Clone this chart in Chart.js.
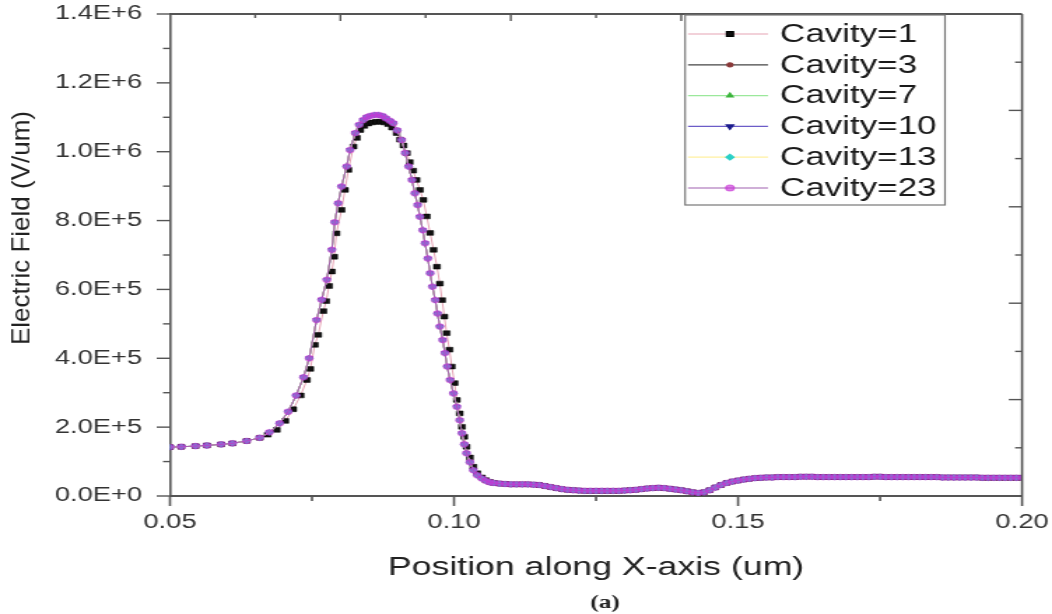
<!DOCTYPE html>
<html>
<head>
<meta charset="utf-8">
<title>Electric field along X</title>
<script src="https://cdn.jsdelivr.net/npm/chart.js@4/dist/chart.umd.min.js"></script>
<style>
	html, body { margin: 0; padding: 0; background: #fff; overflow: hidden; }
	/* the source figure is stretched sideways, so the whole chart is too */
	#wrap { width: 752px; height: 614px; transform: scaleX(1.39894); transform-origin: 0 0; }
</style>
</head>
<body>
<div id="wrap"><canvas id="fieldChart" width="752" height="614"></canvas></div>
<script>
const seriesLabels = ['Cavity=1', 'Cavity=3', 'Cavity=7', 'Cavity=10', 'Cavity=13', 'Cavity=23'];

// field values are in 1000 V/um
// Cavity=1 (black squares), rise and peak
const peakX1 = [0.0500, 0.0520, 0.0545, 0.0565, 0.0590, 0.0610, 0.0635, 0.0658, 0.0672, 0.0688,
	0.0703, 0.0717, 0.0730, 0.0741, 0.0747, 0.0755, 0.0761, 0.0770, 0.0775, 0.0780,
	0.0785, 0.0789, 0.0793, 0.0802, 0.0808, 0.0814, 0.0823, 0.0829, 0.0835, 0.0842,
	0.0849, 0.0856, 0.0863, 0.0870, 0.0877, 0.0884, 0.0891, 0.0899, 0.0905, 0.0911,
	0.0917, 0.0922, 0.0928, 0.0934, 0.0940, 0.0946, 0.0952, 0.0958, 0.0964, 0.0970,
	0.0975, 0.0979, 0.0983, 0.0987, 0.0992, 0.0996, 0.1001, 0.1005, 0.1010, 0.1014,
	0.1018, 0.1022, 0.1028, 0.1034, 0.1041, 0.1049, 0.1056, 0.1063];
const peakY1 = [142, 143, 145, 147, 150, 153, 160, 169, 178, 192,
	218, 252, 292, 337, 369, 439, 468, 537, 566, 610,
	652, 695, 763, 831, 889, 947, 1015, 1040, 1063, 1075,
	1082, 1085, 1087, 1087, 1085, 1080, 1070, 1054, 1035, 1018,
	996, 970, 945, 918, 889, 860, 812, 764, 715, 666,
	617, 569, 521, 473, 425, 376, 328, 279, 240, 201,
	172, 143, 112, 85, 66, 54, 46, 41];

// Cavity=3..23 lie on top of each other
const peakX = [0.0500, 0.0520, 0.0545, 0.0565, 0.0590, 0.0610, 0.0635, 0.0658, 0.0675, 0.0693,
	0.0708, 0.0722, 0.0735, 0.0745, 0.0758, 0.0767, 0.0776, 0.0785, 0.0790, 0.0796,
	0.0802, 0.0811, 0.0817, 0.0826, 0.0833, 0.0840, 0.0846, 0.0852, 0.0860, 0.0867,
	0.0874, 0.0880, 0.0887, 0.0893, 0.0900, 0.0908, 0.0914, 0.0920, 0.0926, 0.0931,
	0.0936, 0.0940, 0.0945, 0.0949, 0.0954, 0.0958, 0.0962, 0.0967, 0.0971, 0.0975,
	0.0980, 0.0984, 0.0988, 0.0993, 0.0999, 0.1005, 0.1010, 0.1014, 0.1018, 0.1022,
	0.1028, 0.1034, 0.1041, 0.1049, 0.1056, 0.1063];
const peakY = [142, 143, 145, 147, 150, 153, 160, 169, 185, 211,
	245, 292, 345, 400, 511, 570, 628, 715, 795, 850,
	899, 957, 1005, 1054, 1078, 1092, 1100, 1104, 1107, 1107,
	1104, 1097, 1090, 1083, 1062, 1034, 996, 957, 918, 879,
	845, 811, 772, 734, 690, 647, 608, 569, 530, 492,
	453, 415, 376, 337, 298, 259, 220, 182, 150, 124,
	98, 75, 60, 51, 44, 40];

// low tail after the drop, same for every cavity
const tailX = [0.107, 0.108, 0.109, 0.110, 0.111, 0.112, 0.113, 0.114, 0.115, 0.116,
	0.117, 0.118, 0.119, 0.120, 0.121, 0.122, 0.123, 0.124, 0.125, 0.126,
	0.127, 0.128, 0.129, 0.130, 0.131, 0.132, 0.133, 0.134, 0.135, 0.136,
	0.137, 0.138, 0.139, 0.140, 0.141, 0.142, 0.143, 0.144, 0.145, 0.146,
	0.147, 0.148, 0.149, 0.150, 0.151, 0.152, 0.153, 0.154, 0.155, 0.156,
	0.157, 0.158, 0.159, 0.160, 0.161, 0.162, 0.163, 0.164, 0.165, 0.166,
	0.167, 0.168, 0.169, 0.170, 0.171, 0.172, 0.173, 0.174, 0.175, 0.176,
	0.177, 0.178, 0.179, 0.180, 0.181, 0.182, 0.183, 0.184, 0.185, 0.186,
	0.187, 0.188, 0.189, 0.190, 0.191, 0.192, 0.193, 0.194, 0.195, 0.196,
	0.197, 0.198, 0.199, 0.200];
const tailY = [38, 36, 35, 34, 34, 34, 34, 33, 32, 29,
	26, 23, 20, 18, 17, 16, 15, 15, 15, 15,
	15, 15, 15, 16, 17, 18, 20, 22, 23, 24,
	23, 21, 19, 17, 14, 11, 9, 11, 17, 25,
	32, 38, 42, 45, 48, 50, 52, 53, 54, 54,
	55, 55, 55, 55, 56, 56, 56, 55, 55, 55,
	55, 55, 55, 55, 55, 55, 55, 56, 56, 55,
	55, 55, 55, 55, 55, 55, 55, 55, 55, 54,
	54, 54, 54, 54, 54, 54, 53, 53, 53, 53,
	53, 53, 53, 53];

(function () {
	const STRETCH = 1052 / 752;
	const FONT = '"Liberation Sans", Arial, sans-serif';

	const seriesStyles = [
		{ line: '#e6a3b4', fill: '#111111', stroke: '#000000', shape: 'rect', radius: 3.4, rotation: 0, order: 5 },
		{ line: '#444444', fill: '#8b3a3a', stroke: '#8b3a3a', shape: 'circle', radius: 2, rotation: 0, order: 4 },
		{ line: '#9be89b', fill: '#3cb43c', stroke: '#3cb43c', shape: 'triangle', radius: 2.6, rotation: 0, order: 3 },
		{ line: '#6c5cc8', fill: '#1c1c8c', stroke: '#1c1c8c', shape: 'triangle', radius: 3, rotation: 180, order: 2 },
		{ line: '#fff0a0', fill: '#2ad0c8', stroke: '#2ad0c8', shape: 'rectRot', radius: 2.8, rotation: 0, order: 1 },
		{ line: '#a060b0', fill: 'rgba(200,50,215,0.62)', stroke: 'rgba(200,50,215,0.62)', shape: 'circle', radius: 3, rotation: 0, order: 0 },
	];

	function toPoints(xs, ys) {
		return xs.map((x, i) => ({ x: x, y: ys[i] * 1e3 }));
	}
	const curveOne = toPoints(peakX1, peakY1).concat(toPoints(tailX, tailY));
	const curveRest = toPoints(peakX, peakY).concat(toPoints(tailX, tailY));

	const datasets = seriesLabels.map((label, i) => {
		const s = seriesStyles[i];
		return {
			label: label,
			data: i === 0 ? curveOne : curveRest,
			borderColor: s.line,
			borderWidth: 1,
			backgroundColor: s.fill,
			pointBackgroundColor: s.fill,
			pointBorderColor: s.stroke,
			pointBorderWidth: 0.5,
			pointStyle: s.shape,
			pointRotation: s.rotation,
			pointRadius: s.radius,
			tension: 0,
			order: s.order,
		};
	});

	function stroke(ctx, x1, y1, x2, y2) {
		ctx.beginPath();
		ctx.moveTo(x1, y1);
		ctx.lineTo(x2, y2);
		ctx.stroke();
	}

	const decorations = {
		id: 'decorations',
		afterDraw(chart) {
			const { ctx, chartArea: a, scales } = chart;
			const xs = scales.x;
			const ys = scales.y;
			ctx.save();
			ctx.strokeStyle = '#555';

			// top and right edges of the frame
			ctx.lineWidth = 2;
			stroke(ctx, a.left, a.top, a.right, a.top);
			ctx.lineWidth = 1.6;
			stroke(ctx, a.right, a.top, a.right, a.bottom);

			// left ticks, major every 2E+5
			ctx.lineWidth = 1.4;
			for (let i = 0; i <= 14; i++) {
				const py = ys.getPixelForValue(i * 1e5);
				const len = i % 2 === 0 ? 9.5 : 5;
				stroke(ctx, a.left - len, py, a.left, py);
			}
			// bottom ticks, major every 0.05
			ctx.lineWidth = 1.6;
			for (let i = 0; i <= 6; i++) {
				const px = xs.getPixelForValue(0.05 + i * 0.025);
				const len = i % 2 === 0 ? 10 : 5;
				stroke(ctx, px, a.bottom, px, a.bottom + len);
			}
			// top and right edges carry their own inward ticks
			ctx.lineWidth = 1.4;
			for (let i = 1; i < 10; i++) {
				const px = a.left + (a.right - a.left) * i / 10;
				const py = a.bottom - (a.bottom - a.top) * i / 10;
				stroke(ctx, px, a.top, px, a.top + (i % 2 === 0 ? 7 : 4));
				stroke(ctx, a.right - (i % 2 === 0 ? 9.5 : 5), py, a.right, py);
			}

			// legend box
			const boxL = 489.7, boxR = 675.5, boxT = 15, boxB = 205;
			ctx.fillStyle = '#fff';
			ctx.fillRect(boxL, boxT, boxR - boxL, boxB - boxT);
			ctx.strokeStyle = '#777';
			ctx.lineWidth = 1.2;
			ctx.strokeRect(boxL, boxT, boxR - boxL, boxB - boxT);
			ctx.font = '25px ' + FONT;
			ctx.textBaseline = 'middle';
			ctx.textAlign = 'left';
			chart.data.datasets.forEach((ds, i) => {
				const rowY = 34 + i * 30.8;
				ctx.strokeStyle = ds.borderColor;
				ctx.lineWidth = 1.2;
				stroke(ctx, 491.8, rowY, 549, rowY);
				ctx.fillStyle = ds.pointBackgroundColor;
				ctx.strokeStyle = ds.pointBorderColor;
				Chart.helpers.drawPoint(ctx, {
					pointStyle: ds.pointStyle,
					rotation: ds.pointRotation,
					radius: ds.pointRadius,
					borderWidth: 0.5,
				}, 521.8, rowY);
				ctx.fillStyle = '#1a1a1a';
				ctx.fillText(ds.label, 557.6, rowY + 1);
			});

			// y title, kept unstretched
			ctx.save();
			ctx.translate(22 / STRETCH, 228);
			ctx.scale(1 / STRETCH, 1);
			ctx.rotate(-Math.PI / 2);
			ctx.font = '26px ' + FONT;
			ctx.fillStyle = '#222';
			ctx.textAlign = 'center';
			ctx.textBaseline = 'middle';
			ctx.fillText('Electric Field (V/um)', 0, 0);
			ctx.restore();

			// panel caption
			ctx.font = 'bold 18px "Liberation Serif", "Times New Roman", serif';
			ctx.fillStyle = '#222';
			ctx.textAlign = 'center';
			ctx.textBaseline = 'middle';
			ctx.fillText('(a)', 605 / STRETCH, 603);
			ctx.restore();
		},
	};

	const config = {
		type: 'line',
		data: { datasets: datasets },
		options: {
			responsive: false,
			animation: false,
			layout: {
				padding: { left: 0, right: 21.4, top: 14, bottom: 22 },
			},
			plugins: {
				legend: { display: false },
				tooltip: { enabled: false },
			},
			scales: {
				x: {
					type: 'linear',
					min: 0.05,
					max: 0.20,
					afterFit: scale => {
						scale.height = 96;
						scale.paddingLeft = 0;
						scale.paddingRight = 0;
					},
					grid: { display: false, drawTicks: false },
					border: { display: true, color: '#555', width: 2 },
					ticks: {
						stepSize: 0.05,
						padding: 15,
						color: '#333',
						font: { family: FONT, size: 19.5 },
						callback: v => v.toFixed(2),
					},
					title: {
						display: true,
						text: 'Position along X-axis (um)',
						color: '#222',
						font: { family: FONT, size: 25.5 },
						padding: { top: 0, bottom: 8.7 },
					},
				},
				y: {
					min: 0,
					max: 1.4e6,
					afterFit: scale => {
						scale.width = 121.5;
						scale.paddingTop = 0;
						scale.paddingBottom = 0;
					},
					grid: { display: false, drawTicks: false },
					border: { display: true, color: '#555', width: 1.6 },
					ticks: {
						stepSize: 2e5,
						padding: 20,
						color: '#333',
						font: { family: FONT, size: 19.5 },
						callback: v => v.toExponential(1).toUpperCase(),
					},
				},
			},
		},
		plugins: [decorations],
	};
	new Chart(document.querySelector('#fieldChart'), config);
})();
</script>
</body>
</html>
